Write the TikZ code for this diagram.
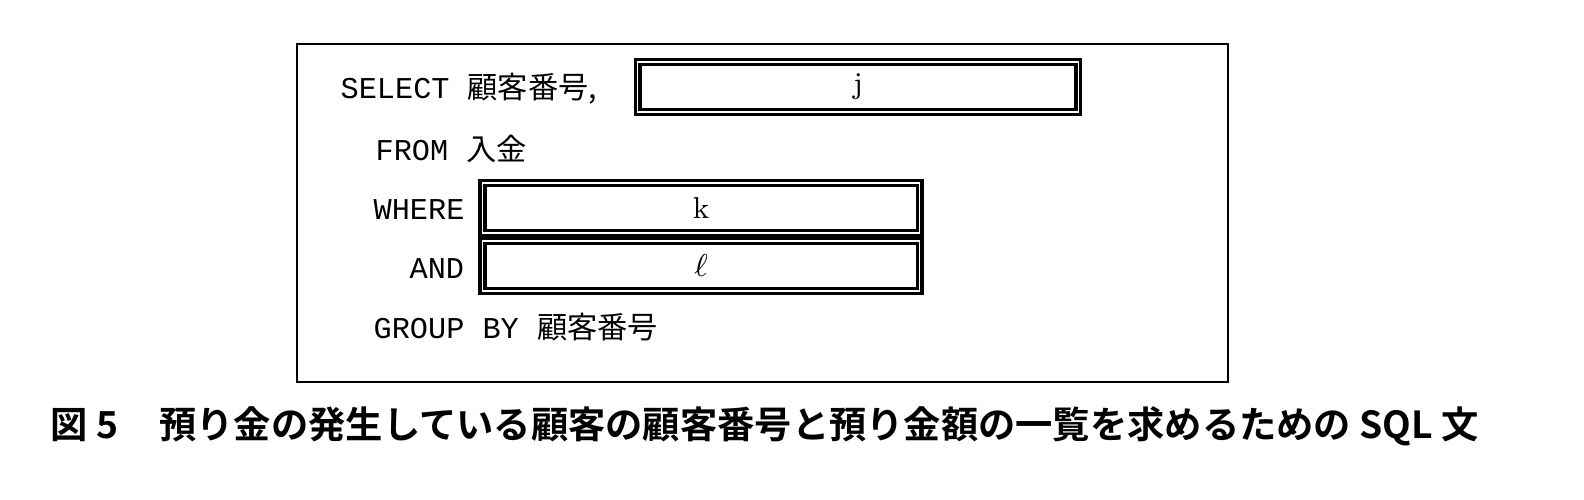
\documentclass[tikz,border=0pt]{standalone}
\usepackage{fontspec}
\setmonofont{Liberation Mono}
\newfontfamily\cjk{Noto Sans CJK JP}
\newfontfamily\cjkb{Noto Sans CJK JP}[BoldFont={* Bold}]
\tikzset{
  sql/.style={anchor=base west, inner sep=0pt, font=\fontsize{8.6}{10}\selectfont},
  blank/.style={draw, line width=1pt, double=white, double distance=0.35pt, minimum height=0.5cm, inner sep=0pt, font=\fontsize{8.6}{10}\selectfont}
}
\begin{document}
\begin{tikzpicture}[x=0.01cm, y=-0.01cm]
	\useasboundingbox (0,0) rectangle (1584,500);
	\draw[line width=0.8pt] (297,44) rectangle (1228,382);
	% SQL lines
	\node[sql] (sel) at (340,98) {\ttfamily SELECT \cjk 顧客番号,};
	\node[sql] (from) at (375,160) {\ttfamily FROM \cjk 入金};
	\node[sql] (where) at (373,219) {\ttfamily WHERE};
	\node[sql] (and) at (409,278) {\ttfamily AND};
	\node[sql] (grp) at (373,338) {\ttfamily GROUP BY \cjk 顧客番号};
	% blanks
	\node[blank, minimum width=4.4cm] (bj) at (858,87) {j};
	\node[blank, minimum width=4.37cm] (bk) at (701,208) {k};
	\node[blank, minimum width=4.37cm] (bl) at (701,266) {$\ell$};
	% caption
	\node[anchor=base west, inner sep=0pt, font=\fontsize{10.6}{12}\selectfont\cjkb\bfseries] (cap) at (50,438)
		{図 5\hspace{1.1em}預り金の発生している顧客の顧客番号と預り金額の一覧を求めるための SQL 文};
\end{tikzpicture}
\end{document}
